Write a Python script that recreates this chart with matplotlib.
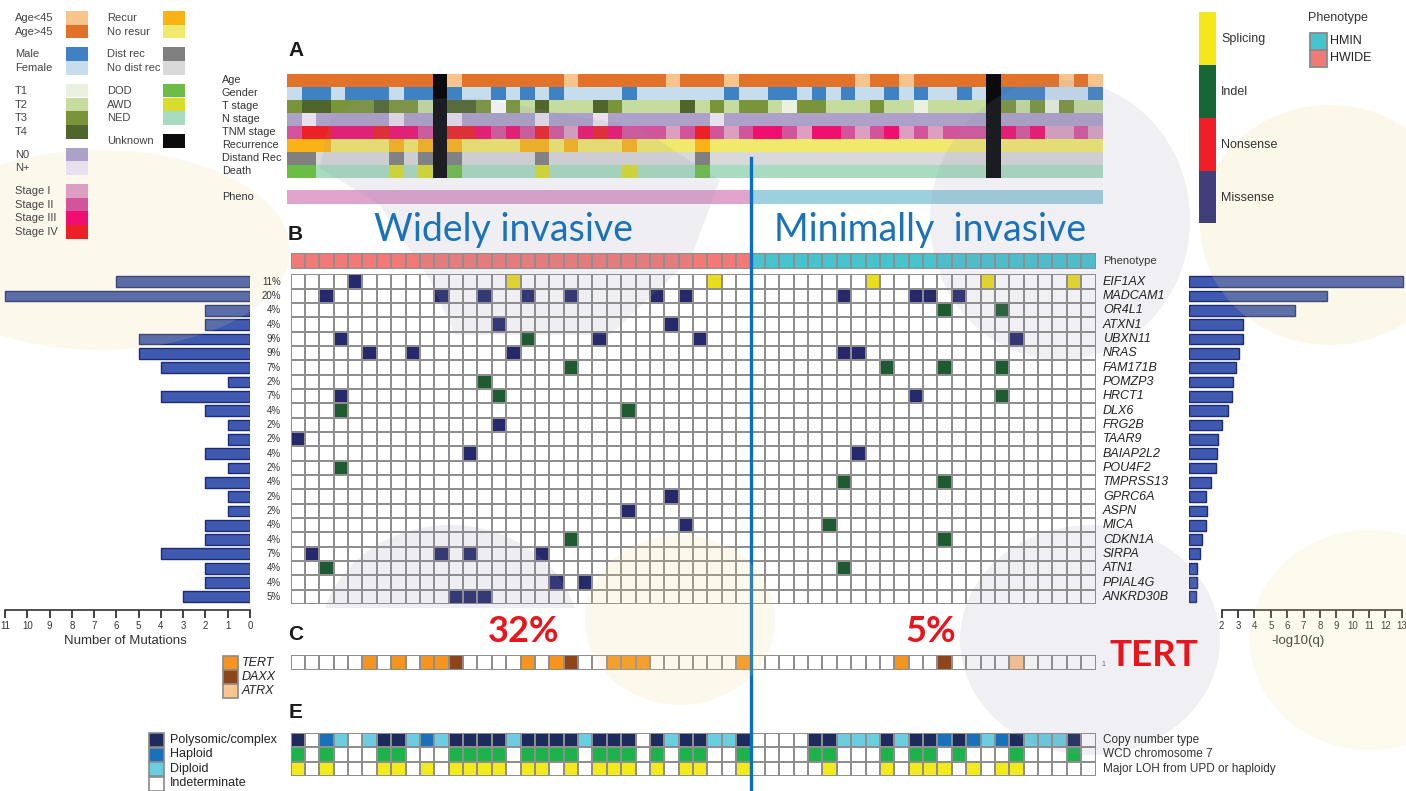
import numpy as np
import matplotlib.pyplot as plt
from matplotlib.colors import ListedColormap, to_rgb
from matplotlib.patches import Rectangle, Ellipse, Polygon
from matplotlib.lines import Line2D
from matplotlib.transforms import blended_transform_factory, Bbox, TransformedBbox

plt.rcParams['font.family'] = ['Liberation Sans', 'DejaVu Sans']

W, H = 1406, 791
N_SAMPLES = 56


def track(s):
    # one character per tumour, spaces only for readability
    out = list(s.replace(" ", ""))
    assert len(out) == N_SAMPLES, (s, len(out))
    return out


# ---- clinical annotation per tumour ----
age = track("OOOOOOOOOO U Y OOOOOOO Y OOOOOO Y OOO Y OOOOOOOO Y OO Y OOOOO U OOOO Y O Y")
gender = track("F MM F MMM F MM U M FF M F M F M FFFF M FFFFFF M FF MM F M F M FF M F M FF M F U MMM FFF M")
t_stage = track("3 44 333 4 33 2 U 44 3 N 3 2 4 222 4 3 2222 4 2 3 2 33 2 1 33 222 3 22 1 2222 U 3 2 3 1 3 22")
n_stage = track("0 P 00000 P 00 U P 00000 P 000 P 0000000 P 000000000000000000 U 0000000")
tnm_stage = track("2 44 333 4 33 2 U 44 3 2 3 2 4 2 1 3 4 3 222 1 2 4 2 1 2 33 2 1 33 2 1 2 3 1 2 1 222 U 3 2 3 11 2 1")
recurrence = track("RRR NNNN R N R U R NNNN RR N R NNN R NNNN R NNNNNNNNNNNNNNNNNNN U NNNNNNN")
dist_rec = track("DD NNNNN D N D U D NNNNN D NNNNNNNNNN D NNNNNNNNNNNNNNNNNNN U NNNNNNN")
death = track("GG NNNNN A N A U G NNNNN A NNNNN A NNNN G NNNNNNNNNNNNNNNNNNN U NNNNNNN")
phenotype = ["HWIDE"] * 32 + ["HMIN"] * 24

# ---- mutations (column = tumour index) ----
genes = ["EIF1AX", "MADCAM1", "OR4L1", "ATXN1", "UBXN11", "NRAS", "FAM171B", "POMZP3",
         "HRCT1", "DLX6", "FRG2B", "TAAR9", "BAIAP2L2", "POU4F2", "TMPRSS13", "GPRC6A",
         "ASPN", "MICA", "CDKN1A", "SIRPA", "ATN1", "PPIAL4G", "ANKRD30B"]
missense = {
    "EIF1AX": [4],
    "MADCAM1": [2, 10, 13, 16, 19, 25, 27, 38, 43, 44, 46],
    "ATXN1": [14, 26],
    "UBXN11": [3, 21, 28, 50],
    "NRAS": [5, 8, 15, 38, 39],
    "HRCT1": [3, 43],
    "FRG2B": [14],
    "TAAR9": [0],
    "BAIAP2L2": [12, 39],
    "GPRC6A": [26],
    "ASPN": [23],
    "MICA": [27],
    "SIRPA": [1, 10, 12, 17],
    "PPIAL4G": [18, 20],
    "ANKRD30B": [11, 12, 13],
}
indel = {
    "OR4L1": [45, 49],
    "UBXN11": [16],
    "FAM171B": [19, 41, 45, 49],
    "POMZP3": [13],
    "HRCT1": [14, 49],
    "DLX6": [3, 23],
    "POU4F2": [3],
    "TMPRSS13": [38, 45],
    "MICA": [37],
    "CDKN1A": [19, 45],
    "ATN1": [2, 38],
}
splicing = {"EIF1AX": [15, 29, 40, 48, 54]}

neg_log10_q = [13.1, 8.45, 6.5, 3.32, 3.28, 3.06, 2.85, 2.69, 2.61, 2.40, 2.02, 1.79,
               1.69, 1.63, 1.33, 1.06, 1.08, 1.06, 0.78, 0.67, 0.49, 0.47, 0.45]

# ---- TERT / DAXX / ATRX ----
tert_row = track(".....T.T.TTD....T.TD..TTT......T .......... T..D....A.....")
tert_pct = {"HWIDE": "32%", "HMIN": "5%"}

# ---- copy number panel ----
copy_number = track("PIHDIDPPDHD PPPP D PPPP D PPP I P D PP DD P IIII PP DDD P D PP H P H D H P DDD P I")
wcd_chr7 = track("GWGWWWGGWWW GGGG W GGGG W GGG W G W GG WW G WWWW GG WWW G W GG W G WWW G WWW G W")
major_loh = track("YWYWWWYYWYW YYYY W YY W Y W YYY W Y W YY WW Y WWWWW Y WWW Y W YYY W Y W YY WWWWW")

# ---- colours ----
UNKNOWN = "#0b0b0d"
clin_tracks = [
    ("Age", age, {"Y": "#f8c48d", "O": "#e27129"}),
    ("Gender", gender, {"M": "#3f82c4", "F": "#c6ddee"}),
    ("T stage", t_stage, {"1": "#eaf2df", "2": "#c6dc9f", "3": "#7a9439", "4": "#50652c", "N": "#ffffff"}),
    ("N stage", n_stage, {"0": "#ada0c9", "P": "#e8e0ec"}),
    ("TNM stage", tnm_stage, {"1": "#dc9fc2", "2": "#d2559c", "3": "#ee0f70", "4": "#ec2027"}),
    ("Recurrence", recurrence, {"R": "#fab317", "N": "#f1e96b"}),
    ("Distand Rec", dist_rec, {"D": "#808080", "N": "#d9d9d9"}),
    ("Death", death, {"G": "#6cbd45", "A": "#d6dd2a", "N": "#a9dbc0"}),
]
pheno_soft = {"HWIDE": "#dfa3cc", "HMIN": "#9dd0de"}
pheno_col = {"HWIDE": "#f27a76", "HMIN": "#47c3ce"}
mut_col = {"none": "#ffffff", "Missense": "#262a6c", "Indel": "#1e5b30",
           "Splicing": "#eadd1f", "Nonsense": "#ee1f26"}
mut_legend = {"Splicing": "#f2e81a", "Indel": "#176636", "Nonsense": "#ee1f26", "Missense": "#3e3f7b"}
tert_col = {".": "#ffffff", "T": "#f7941e", "D": "#8e4519", "A": "#fbc58f"}
cn_col = {"I": "#ffffff", "P": "#1d2b5d", "H": "#1871b9", "D": "#6acde0"}
EDGE = "#8e8e8e"
BAR = "#3f5ab0"
BAR_EDGE = "#1f2b70"
RED = "#e8161c"
BLUE_TXT = "#1a72b8"

fig = plt.figure(figsize=(W / 100, H / 100), dpi=100)
fig.patch.set_facecolor("white")


def px_axes(x0, y0, x1, y1, **kw):
    ax = fig.add_axes([x0 / W, 1 - y1 / H, (x1 - x0) / W, (y1 - y0) / H], **kw)
    ax.set_axis_off()
    return ax


def cell_grid(ax, rows, palettes):
    # categorical cells with grey outlines, one palette per row
    colours, idx = [], np.zeros((len(rows), len(rows[0])), dtype=int)
    for r, (row, pal) in enumerate(zip(rows, palettes)):
        for c, code in enumerate(row):
            col = pal[code]
            if col not in colours:
                colours.append(col)
            idx[r, c] = colours.index(col)
    ax.pcolormesh(idx, cmap=ListedColormap(colours), vmin=-0.5, vmax=len(colours) - 0.5,
                  edgecolors=EDGE, linewidth=1.3)
    ax.set_xlim(0, idx.shape[1])
    ax.set_ylim(idx.shape[0], 0)


# ---- A: clinical tracks ----
ax_clin = px_axes(287.3, 74, 1103.3, 177.7)
rgb = np.array([[to_rgb(pal.get(c, UNKNOWN)) for c in data] for _, data, pal in clin_tracks])
ax_clin.imshow(rgb, aspect="auto", interpolation="nearest", extent=(0, N_SAMPLES, len(clin_tracks), 0))

ax_ph = px_axes(287.3, 190, 1103.3, 204)
ax_ph.imshow(np.array([[to_rgb(pheno_soft[p]) for p in phenotype]]), aspect="auto",
             interpolation="nearest", extent=(0, N_SAMPLES, 1, 0))

# ---- B: phenotype row and mutation grid ----
ax_pb = px_axes(290.5, 253, 1095.5, 268.5)
cell_grid(ax_pb, [phenotype], [pheno_col])

mut = [["none"] * N_SAMPLES for _ in genes]
for kind, table in (("Missense", missense), ("Indel", indel), ("Splicing", splicing)):
    for g, cols in table.items():
        for c in cols:
            mut[genes.index(g)][c] = kind
ax_grid = px_axes(290.5, 274.5, 1095.5, 604)
cell_grid(ax_grid, mut, [mut_col] * len(genes))
mut_counts = [sum(m != "none" for m in row) for row in mut]

y = np.arange(len(genes)) + 0.5

ax_l = fig.add_axes([0, 1 - 604 / H, 250 / W, (604 - 274.5) / H])
ax_l.barh(y, mut_counts, height=0.75, color=BAR, edgecolor=BAR_EDGE, linewidth=1.0)
ax_l.set_xlim(250 / 22.27, 0)
ax_l.set_ylim(len(genes), 0)

ax_r = fig.add_axes([1189 / W, 1 - 604 / H, (W - 1189) / W, (604 - 274.5) / H])
ax_r.barh(y, neg_log10_q, height=0.75, color=BAR, edgecolor=BAR_EDGE, linewidth=1.0)
ax_r.set_xlim(0, (W - 1189) / 16.36)
ax_r.set_ylim(len(genes), 0)

for ax, ticks, lab in ((ax_l, range(0, 12), "Number of Mutations"), (ax_r, range(2, 14), "-log10(q)")):
    ax.patch.set_alpha(0)
    for s in ("top", "left", "right"):
        ax.spines[s].set_visible(False)
    ax.spines["bottom"].set_position(("outward", 4))
    ax.spines["bottom"].set_bounds(min(ticks), max(ticks))
    ax.spines["bottom"].set_linewidth(1.2)
    ax.spines["bottom"].set_color("#333333")
    ax.set_yticks([])
    ax.set_xticks(list(ticks))
    ax.set_xticklabels([str(t) for t in ticks])
    ax.tick_params(axis="x", direction="out", length=6, width=1.3, color="#333333",
                   labelsize=7, pad=2, labelcolor="#333333")
    ax.set_xlabel(lab, fontsize=9.5, color="#333333", labelpad=3)

# ---- C: TERT row ----
ax_t = px_axes(290.5, 655, 1095.5, 669.5)
cell_grid(ax_t, [tert_row], [tert_col])

# ---- E: copy number rows ----
ax_e = px_axes(290.5, 732.5, 1095.5, 776)
cell_grid(ax_e, [copy_number, wcd_chr7, major_loh],
          [cn_col, {"G": "#1db34b", "W": "#ffffff"}, {"Y": "#f2ea1a", "W": "#ffffff"}])

# WIDE | MIN divider
n_wide = phenotype.count("HWIDE")
fig.add_artist(Line2D([n_wide, n_wide], [1 - 158 / H, 0], color="#0a6fc0", lw=2.4,
                      transform=blended_transform_factory(ax_grid.transData, fig.transFigure)))

# ---- text and legends on a pixel overlay ----
ov = fig.add_axes([0, 0, 1, 1], zorder=10)
ov.set_xlim(0, W)
ov.set_ylim(H, 0)
ov.set_axis_off()
ov.patch.set_alpha(0)
TXT = "#333333"

# faint slide watermark shapes
GREYBLUE, PALE_Y = "#8e92aa", "#f0d98a"
ov.add_patch(Polygon([(360, 100), (480, 98), (640, 128), (720, 180), (690, 260), (610, 335),
                      (455, 335), (430, 280), (380, 205), (320, 168), (330, 120)],
                     closed=True, facecolor=GREYBLUE, edgecolor="none", alpha=0.14, zorder=0))
petals = [
    ((1060, 220), 260, 280, GREYBLUE, 0.13, None),
    ((1330, 225), 260, 240, PALE_Y, 0.18, None),
    ((100, 250), 380, 200, PALE_Y, 0.16, None),
    ((450, 640), 260, 230, GREYBLUE, 0.15, 608),
    ((1090, 640), 260, 230, GREYBLUE, 0.13, None),
    ((680, 620), 190, 170, PALE_Y, 0.16, None),
    ((1370, 640), 240, 220, PALE_Y, 0.15, None),
]
for (cx, cy), w, h, col, a, ycut in petals:
    e = Ellipse((cx, cy), w, h, facecolor=col, edgecolor="none", alpha=a, zorder=0)
    ov.add_patch(e)
    if ycut is not None:
        e.set_clip_box(TransformedBbox(Bbox([[0, 0], [W, ycut]]), ov.transData))

for ch, (x, yy) in {"A": (288, 51), "B": (288, 235), "C": (288, 634), "E": (289, 712)}.items():
    ov.text(x, yy, ch, fontsize=15, fontweight="bold", color="#1a1a1a", va="center", ha="left")

tr = blended_transform_factory(ov.transData, ax_clin.transData)
for i, (lab, _, _) in enumerate(clin_tracks):
    ov.text(222, i + 0.5, lab, transform=tr, fontsize=7.8, color=TXT, va="center")
ov.text(222, 0.5, "Pheno", transform=blended_transform_factory(ov.transData, ax_ph.transData),
        fontsize=7.8, color=TXT, va="center")
ov.text(1103, 0.5, "Phenotype", transform=blended_transform_factory(ov.transData, ax_pb.transData),
        fontsize=8, color=TXT, va="center")

tr = blended_transform_factory(ov.transData, ax_grid.transData)
for i, g in enumerate(genes):
    ov.text(1103, i + 0.5, g, transform=tr, fontsize=9, style="italic", color="#222222", va="center")
    ov.text(281, i + 0.5, f"{round(100 * mut_counts[i] / N_SAMPLES)}%", transform=tr,
            fontsize=7, color=TXT, va="center", ha="right")

tr = blended_transform_factory(ov.transData, ax_e.transData)
for i, lab in enumerate(["Copy number type", "WCD chromosome 7", "Major LOH from UPD or haploidy"]):
    ov.text(1103, i + 0.5, lab, transform=tr, fontsize=8.5, color=TXT, va="center")
ov.text(1101, 0.65, "1", transform=blended_transform_factory(ov.transData, ax_t.transData),
        fontsize=5, color="#666666", va="center")

big = dict(family=["Lato", "DejaVu Sans"], va="center")
ov.text(504, 230, "Widely invasive", fontsize=27, color=BLUE_TXT, ha="center", **big)
ov.text(930, 230, "Minimally  invasive", fontsize=27, color=BLUE_TXT, ha="center", **big)
ov.text(524, 631, tert_pct["HWIDE"], fontsize=26, color=RED, fontweight="bold", ha="center", **big)
ov.text(931, 631, tert_pct["HMIN"], fontsize=26, color=RED, fontweight="bold", ha="center", **big)
ov.text(1109, 655, "TERT", fontsize=26.5, color=RED, fontweight="bold", ha="left", **big)

# clinical legend (two columns)
left_groups = [["Age<45", "Age>45"], ["Male", "Female"], ["T1", "T2", "T3", "T4"], ["N0", "N+"],
               ["Stage I", "Stage II", "Stage III", "Stage IV"]]
right_groups = [["Recur", "No resur"], ["Dist rec", "No dist rec"], ["DOD", "AWD", "NED"], ["Unknown"]]
legend_col = {
    "Age<45": "#f8c48d", "Age>45": "#e27129", "Male": "#3f82c4", "Female": "#c6ddee",
    "T1": "#eaf2df", "T2": "#c6dc9f", "T3": "#7a9439", "T4": "#50652c",
    "N0": "#ada0c9", "N+": "#e8e0ec", "Stage I": "#dc9fc2", "Stage II": "#d2559c",
    "Stage III": "#ee0f70", "Stage IV": "#ec2027", "Recur": "#fab317", "No resur": "#f1e96b",
    "Dist rec": "#808080", "No dist rec": "#d9d9d9", "DOD": "#6cbd45", "AWD": "#d6dd2a",
    "NED": "#a9dbc0", "Unknown": UNKNOWN,
}
for groups, tx, sx in ((left_groups, 15, 66), (right_groups, 107, 163)):
    top = 11
    for grp in groups:
        for lab in grp:
            ov.add_patch(Rectangle((sx, top), 22, 13.7, color=legend_col[lab], lw=0))
            ov.text(tx, top + 7, lab, fontsize=8, color="#444444", va="center")
            top += 13.7
        top += 9

# mutation type legend
top = 12.3
for lab, col in mut_legend.items():
    ov.add_patch(Rectangle((1199, top), 17, 52.75, color=col, lw=0))
    ov.text(1221, top + 27, lab, fontsize=9, color=TXT, va="center")
    top += 52.75

ov.text(1308, 18, "Phenotype", fontsize=9, color=TXT, va="center")
for i, (lab, key) in enumerate((("HMIN", "HMIN"), ("HWIDE", "HWIDE"))):
    ov.add_patch(Rectangle((1310, 32.5 + 17 * i), 16.5, 17, facecolor=pheno_col[key],
                           edgecolor="#8a8a8a", lw=1.3))
    ov.text(1330, 41 + 17 * i, lab, fontsize=9, color="#222222", va="center")

# TERT legend
for i, (lab, key) in enumerate((("TERT", "T"), ("DAXX", "D"), ("ATRX", "A"))):
    ov.add_patch(Rectangle((223, 656 + 14 * i), 14.5, 13.5, facecolor=tert_col[key],
                           edgecolor="#8a8a8a", lw=1.2))
    ov.text(242, 663 + 14 * i, lab, fontsize=9, style="italic", color="#222222", va="center")

# copy number legend
for i, (lab, key) in enumerate((("Polysomic/complex", "P"), ("Haploid", "H"),
                                ("Diploid", "D"), ("Indeterminate", "I"))):
    ov.add_patch(Rectangle((149, 733 + 14.5 * i), 15, 14, facecolor=cn_col[key],
                           edgecolor="#8a8a8a", lw=1.2))
    ov.text(170, 740 + 14.5 * i, lab, fontsize=9, color="#222222", va="center")

fig.savefig("out.png", dpi=100)
